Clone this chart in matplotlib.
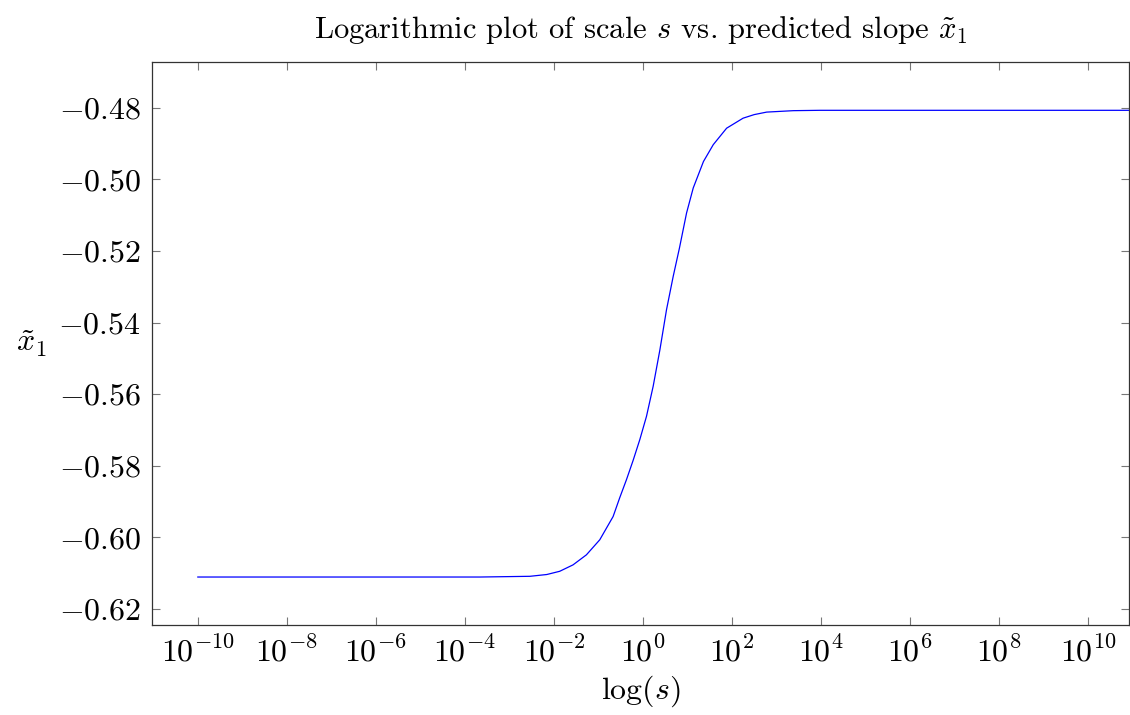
import numpy as np
import matplotlib
matplotlib.use("Agg")
import matplotlib.pyplot as plt

plt.rcParams["mathtext.fontset"] = "cm"
plt.rcParams["font.family"] = "serif"
plt.rcParams["font.serif"] = ["cmr10", "DejaVu Serif"]
plt.rcParams["axes.formatter.use_mathtext"] = True

# log10(s) and predicted slope
log_s = [-10, -6, -4.5, -3.66, -2.54, -2.16, -1.87, -1.57, -1.27, -0.97, -0.67,
         -0.52, -0.37, -0.22, -0.07, 0.08, 0.23, 0.38, 0.53, 0.68, 0.82, 0.98,
         1.13, 1.36, 1.58, 1.88, 2.25, 2.5, 2.78, 3.38, 3.98, 6, 10.92]
slope = [-0.6111, -0.6111, -0.6111, -0.6111, -0.6109, -0.6104, -0.6095, -0.6077,
         -0.6049, -0.6007, -0.5942, -0.5889, -0.5839, -0.5785, -0.5727, -0.5662,
         -0.5578, -0.5477, -0.5364, -0.5271, -0.5192, -0.5094, -0.5024, -0.4950,
         -0.4903, -0.4857, -0.4829, -0.4819, -0.4812, -0.4808, -0.4807, -0.4807,
         -0.4807]

xtick_exp = [-10, -8, -6, -4, -2, 0, 2, 4, 6, 8, 10]
yticks = [-0.62, -0.60, -0.58, -0.56, -0.54, -0.52, -0.50, -0.48]

s = 10.0 ** np.array(log_s)

fig = plt.figure(figsize=(11.3, 7.15), dpi=100)
ax = fig.add_axes([0.1345, 0.1259, 0.8646, 0.7874])
ax.plot(s, slope, color="blue", lw=0.9)

ax.set_xscale("log")
ax.set_xlim(10 ** -11.03, 10 ** 10.92)
ax.set_ylim(-0.6245, -0.4672)
ax.set_xticks([10.0 ** e for e in xtick_exp])
ax.set_xticklabels([r"$10^{%d}$" % e for e in xtick_exp])
ax.minorticks_off()
ax.set_yticks(yticks)
ax.set_yticklabels([r"$%.2f$" % v for v in yticks])

ax.tick_params(direction="in", length=6, width=0.8, color="#777777",
               top=True, right=True, labelsize=23, pad=8)
for sp in ax.spines.values():
    sp.set_color("#333333")
    sp.set_linewidth(0.9)

ax.set_title(r"Logarithmic plot of scale $s$ vs. predicted slope $\tilde{x}_1$",
             fontsize=22, pad=17)
ax.set_xlabel(r"$\log(s)$", fontsize=23, labelpad=4)
ax.set_ylabel(r"$\tilde{x}_1$", fontsize=23, rotation=0, labelpad=19, va="center")

fig.savefig("out.png", dpi=100)
